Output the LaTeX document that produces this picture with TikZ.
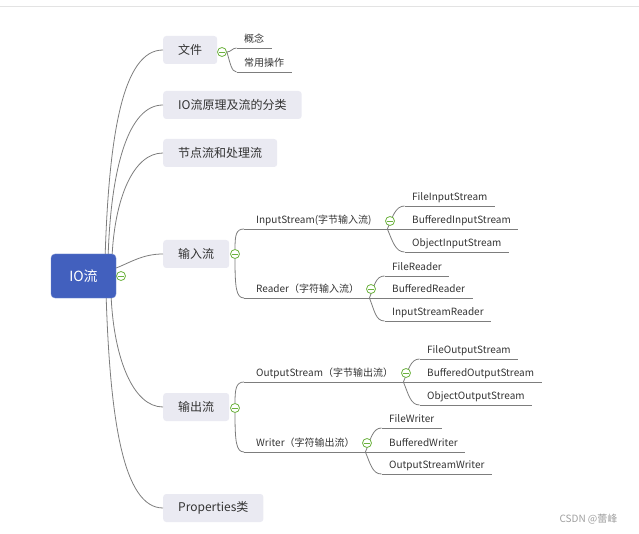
\documentclass[tikz,border=0pt]{standalone}
\usepackage{fontspec}
\setmainfont{Noto Sans CJK SC}
\usepackage{tikz}
\usetikzlibrary{positioning,calc}
\definecolor{rootC}{RGB}{66,96,190}
\definecolor{topicC}{RGB}{234,234,242}
\definecolor{lineC}{RGB}{125,125,125}
\definecolor{foldC}{RGB}{108,178,62}
\definecolor{txtC}{RGB}{51,51,51}

\begin{document}
\begin{tikzpicture}[x=1pt, y=-1pt,
  link/.style={draw=lineC, line width=0.8pt},
  root/.style={fill=rootC, draw=rootC!75!white, rounded corners=4pt, minimum width=65pt,
               minimum height=44pt, text=white, font=\fontsize{14}{16}\selectfont},
  topic/.style={fill=topicC, rounded corners=3pt, minimum height=28pt, inner xsep=15pt,
                anchor=west, text=txtC, font=\fontsize{12}{14}\selectfont},
  sub/.style={anchor=south west, inner xsep=12pt, inner ysep=3.5pt, text height=7.5pt,
              text depth=2pt, text=txtC, font=\fontsize{10}{12}\selectfont,
              append after command={(\tikzlastnode.south west) edge[link] (\tikzlastnode.south east)}},
  leaf/.style={sub, inner xsep=7.5pt},
  fold/.style={circle, draw=foldC, fill=white, line width=0.8pt, minimum size=9pt, inner sep=0pt,
               path picture={\draw[foldC, line width=0.8pt]
                 ([xshift=-2.6pt]path picture bounding box.center) --
                 ([xshift=2.6pt]path picture bounding box.center);}},
  wm/.style={anchor=west, text=gray!75, font=\fontsize{10}{12}\selectfont},
]
\useasboundingbox (0,0) rectangle (639,534);
\draw[gray!22, line width=1pt] (0,7) -- (639,7);

% ============ root and main topics ============
\node[root] (io) at (83.5,276) {IO流};
\node[topic] (tFile) at (163,50)  {文件};
\node[topic] (tPrin) at (163,105) {IO流原理及流的分类};
\node[topic] (tNode) at (163,153) {节点流和处理流};
\node[topic] (tIn)   at (163,254) {输入流};
\node[topic] (tOut)  at (163,407) {输出流};
\node[topic] (tProp) at (163,508) {Properties类};

\draw[link] ([xshift=-11pt]io.north east) .. controls +(4,-120) and +(-40,0) .. (tFile.west);
\draw[link] ([xshift=-8pt]io.north east)  .. controls +(3,-85) and +(-35,0) .. (tPrin.west);
\draw[link] ([xshift=-4pt]io.north east)  .. controls +(3,-55) and +(-30,0) .. (tNode.west);
\draw[link] ([yshift=8pt]io.east)         .. controls +(15,-6) and +(-20,0) .. (tIn.west);
\draw[link] ([xshift=-5pt]io.south east)  .. controls +(3,60) and +(-30,0) .. (tOut.west);
\draw[link] ([xshift=-10pt]io.south east) .. controls +(4,120) and +(-40,0) .. (tProp.west);

% ============ 文件 ============
\node[fold] (fFile) at (222,52) {};
\node[leaf] (gn) at (236.5,48) {概念};
\node[leaf] (cy) at (236.5,72) {常用操作};
\draw[link] (fFile.east) .. controls +(4,0) and +(-4,0) .. (gn.south west);
\draw[link] (fFile.east) .. controls +(3,10) and +(-5,0) .. (cy.south west);

% ============ 输入流 ============
\node[fold] (fIn) at (235,254) {};
\node[sub, text width=119pt, align=left] (ins) at (244,229) {InputStream(字节输入流)};
\node[sub, text width=101pt, align=left] (rdr) at (244,298) {Reader（字符输入流）};
\draw[link] (fIn.north) .. controls +(0,-14) and +(-8,0) .. (ins.south west);
\draw[link] (fIn.south) .. controls +(0,28) and +(-8,0) .. (rdr.south west);

\node[leaf] (fis) at (404.5,206) {FileInputStream};
\node[leaf] (bis) at (404.5,229) {BufferedInputStream};
\node[leaf] (ois) at (404.5,252) {ObjectInputStream};
\draw[link] (ins.south east) .. controls +(5,-12) and +(-9,0) .. (fis.south west);
\draw[link] (ins.south east) -- (bis.south west);
\draw[link] (ins.south east) .. controls +(5,12) and +(-9,0) .. (ois.south west);

\node[leaf] (fr)  at (384.5,276) {FileReader};
\node[leaf] (br)  at (384.5,298) {BufferedReader};
\node[leaf] (isr) at (384.5,321) {InputStreamReader};
\draw[link] (rdr.south east) .. controls +(5,-12) and +(-9,0) .. (fr.south west);
\draw[link] (rdr.south east) -- (br.south west);
\draw[link] (rdr.south east) .. controls +(5,12) and +(-9,0) .. (isr.south west);

% ============ 输出流 ============
\node[fold] (fOut) at (235,408) {};
\node[sub, text width=135pt, align=left] (ous) at (244,382) {OutputStream（字节输出流）};
\node[sub, text width=97pt, align=left]  (wtr) at (244,452) {Writer（字符输出流）};
\draw[link] (fOut.north) .. controls +(0,-14) and +(-8,0) .. (ous.south west);
\draw[link] (fOut.south) .. controls +(0,28) and +(-8,0) .. (wtr.south west);

\node[leaf] (fos) at (419.5,359) {FileOutputStream};
\node[leaf] (bos) at (419.5,382) {BufferedOutputStream};
\node[leaf] (oos) at (419.5,405) {ObjectOutputStream};
\draw[link] (ous.south east) .. controls +(5,-12) and +(-9,0) .. (fos.south west);
\draw[link] (ous.south east) -- (bos.south west);
\draw[link] (ous.south east) .. controls +(5,12) and +(-9,0) .. (oos.south west);

\node[leaf] (fw)  at (381.5,428) {FileWriter};
\node[leaf] (bw)  at (381.5,452) {BufferedWriter};
\node[leaf] (osw) at (381.5,474) {OutputStreamWriter};
\draw[link] (wtr.south east) .. controls +(5,-12) and +(-9,0) .. (fw.south west);
\draw[link] (wtr.south east) -- (bw.south west);
\draw[link] (wtr.south east) .. controls +(5,12) and +(-9,0) .. (osw.south west);

% ============ fold markers on top ============
\node[fold] (fRoot) at (121,276) {};
\node[fold] (fIns)  at (390,221) {};
\node[fold] (fRdr)  at (371,289) {};
\node[fold] (fOus)  at (406,373) {};
\node[fold] (fWtr)  at (367,443) {};

\node[wm] (csdn) at (556,519) {CSDN @蕾峰};
\end{tikzpicture}
\end{document}
